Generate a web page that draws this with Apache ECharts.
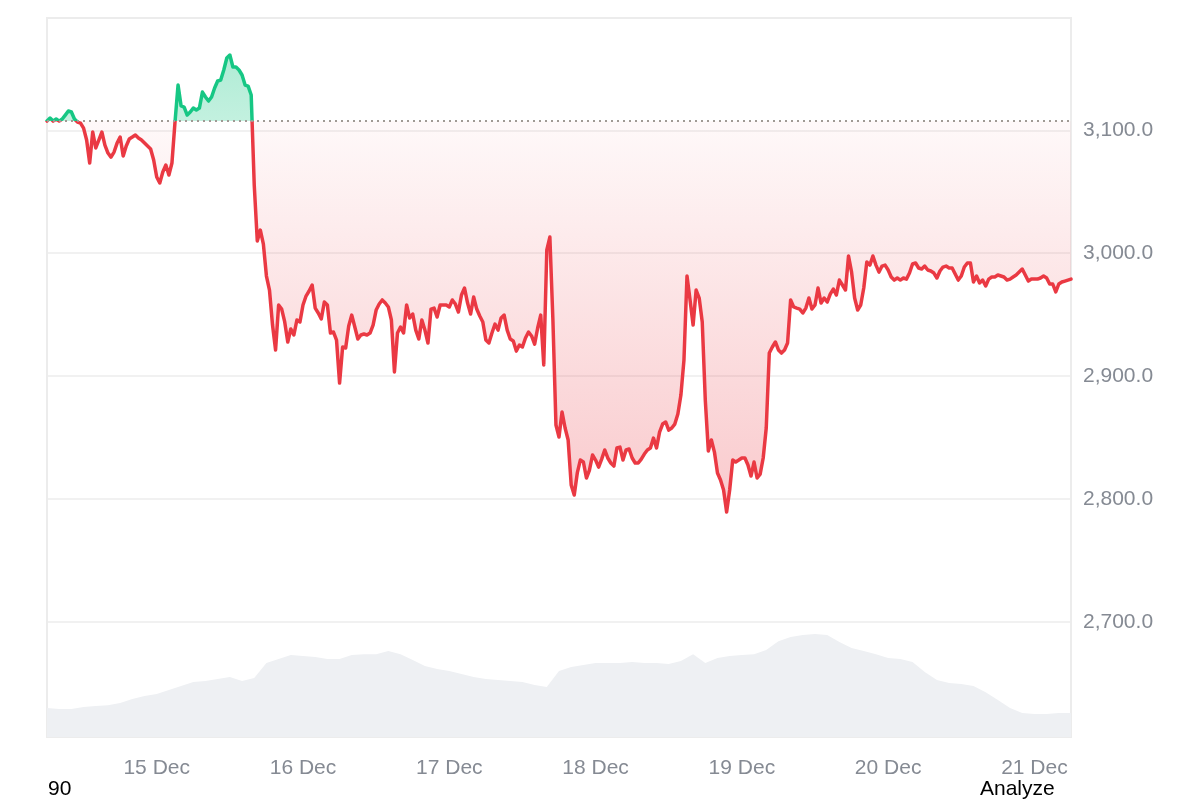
<!DOCTYPE html>
<html>
<head>
<meta charset="utf-8">
<script src="https://cdn.jsdelivr.net/npm/echarts@6/dist/echarts.min.js"></script>
<style>
html,body{margin:0;padding:0;background:#ffffff;}
#chart{width:1200px;height:800px;}
</style>
</head>
<body>
<div id="chart"></div>
<script>
// ---------- data ----------
const startTime = Date.UTC(2025, 11, 14, 6, 0);   // 14 Dec 06:00
const priceStepMinutes = 30;
const prices = [
  3107.5, 3110.0, 3107.5, 3109.2, 3107.5, 3109.2, 3112.4, 3115.7, 3114.9, 3109.2, 3106.7, 3105.9,
  3101.8, 3092.1, 3073.4, 3098.6, 3085.6, 3092.1, 3098.6, 3088.0, 3081.5, 3078.2, 3082.3, 3089.6,
  3094.5, 3079.1, 3087.2, 3092.9, 3094.5, 3096.2, 3093.7, 3092.1, 3089.6, 3087.2, 3084.8, 3075.8,
  3062.0, 3057.1, 3066.0, 3071.7, 3063.6, 3073.4, 3106.7, 3136.8, 3119.8, 3118.9, 3112.4, 3114.9,
  3118.1, 3116.5, 3118.1, 3131.1, 3127.1, 3123.8, 3127.1, 3134.4, 3140.1, 3140.9, 3149.1, 3158.8,
  3161.3, 3151.5, 3151.5, 3149.1, 3145.0, 3136.8, 3136.0, 3128.7, 3055.5, 3009.9, 3018.8, 3007.4,
  2981.4, 2970.0, 2941.5, 2921.2, 2957.8, 2954.5, 2944.0, 2927.7, 2938.3, 2933.4, 2945.6, 2944.0,
  2957.8, 2965.1, 2969.2, 2974.1, 2955.3, 2951.3, 2946.4, 2960.2, 2957.8, 2935.0, 2935.8, 2929.3,
  2894.3, 2923.6, 2922.8, 2940.7, 2949.6, 2939.9, 2930.1, 2933.4, 2934.2, 2933.4, 2935.0, 2941.5,
  2953.7, 2958.6, 2961.9, 2959.4, 2956.2, 2945.6, 2903.3, 2935.0, 2939.9, 2935.0, 2957.8, 2947.2,
  2950.5, 2937.4, 2930.1, 2945.6, 2937.4, 2926.9, 2954.5, 2955.3, 2948.0, 2957.8, 2957.8, 2957.8,
  2956.2, 2961.9, 2958.6, 2952.1, 2965.9, 2971.6, 2959.4, 2950.5, 2964.3, 2954.5, 2948.8, 2944.0,
  2929.3, 2926.9, 2935.0, 2942.3, 2937.4, 2947.2, 2949.6, 2937.4, 2930.1, 2928.5, 2920.3, 2925.2,
  2923.6, 2930.9, 2935.8, 2932.6, 2926.0, 2939.1, 2949.6, 2909.0, 3002.6, 3013.1, 2945.6, 2860.1,
  2850.4, 2870.7, 2857.7, 2847.9, 2811.3, 2803.1, 2821.1, 2831.6, 2830.0, 2817.0, 2823.5, 2835.7,
  2831.6, 2825.9, 2832.4, 2839.8, 2833.3, 2829.2, 2826.7, 2841.4, 2842.2, 2831.6, 2839.8, 2840.6,
  2833.3, 2829.2, 2829.2, 2832.4, 2836.5, 2839.8, 2841.4, 2849.5, 2841.4, 2854.4, 2860.9, 2862.6,
  2856.0, 2857.7, 2860.9, 2869.1, 2884.5, 2913.0, 2981.4, 2961.9, 2941.5, 2970.0, 2963.5, 2944.0,
  2880.5, 2839.0, 2847.9, 2838.1, 2821.1, 2815.4, 2807.2, 2789.3, 2807.2, 2831.6, 2830.0, 2831.6,
  2833.3, 2833.3, 2827.6, 2818.6, 2830.0, 2817.0, 2820.2, 2833.3, 2857.7, 2918.7, 2923.6, 2927.7,
  2921.2, 2918.7, 2921.2, 2926.9, 2961.9, 2956.2, 2955.3, 2954.5, 2951.3, 2955.3, 2963.5, 2954.5,
  2957.8, 2971.6, 2959.4, 2963.5, 2960.2, 2966.7, 2970.8, 2965.9, 2978.1, 2974.1, 2970.0, 2997.7,
  2984.6, 2963.5, 2953.7, 2957.8, 2971.6, 2992.8, 2990.3, 2997.7, 2990.3, 2984.6, 2989.5, 2990.3,
  2986.3, 2980.6, 2978.1, 2979.8, 2978.1, 2979.8, 2978.9, 2983.8, 2991.2, 2992.0, 2987.9, 2987.1,
  2989.5, 2986.3, 2985.5, 2983.8, 2979.8, 2985.5, 2988.7, 2989.5, 2987.9, 2987.9, 2983.0, 2978.1,
  2981.4, 2988.7, 2992.0, 2992.0, 2976.5, 2981.4, 2975.7, 2978.1, 2973.3, 2978.9, 2980.6, 2980.6,
  2982.2, 2981.4, 2980.6, 2978.1, 2978.9, 2980.6, 2982.2, 2984.6, 2987.1, 2982.2, 2977.3, 2978.9,
  2978.9, 2978.9, 2979.8, 2981.4, 2979.8, 2974.9, 2974.9, 2968.4, 2974.9, 2976.5, 2977.3, 2978.1,
  2978.9
];
const baselinePrice = 3107.5;

const volumeStepMinutes = 120;
const volumes = [ // 24h volume, billions
  11.4, 11.0, 11.0, 11.8, 12.2, 12.5, 13.3, 14.9, 16.1, 16.9, 18.4, 20.0,
  21.6, 22.0, 22.7, 23.5, 22.0, 23.1, 29.0, 30.6, 32.2, 31.8, 31.4, 30.6,
  30.6, 32.2, 32.5, 32.5, 33.7, 32.5, 30.2, 27.8, 26.7, 25.9, 24.7, 23.5,
  22.7, 22.4, 22.0, 21.6, 20.4, 19.6, 25.9, 27.5, 28.2, 29.0, 29.0, 29.0,
  29.4, 29.0, 29.0, 28.6, 29.8, 32.5, 29.0, 31.0, 31.8, 32.2, 32.5, 34.1,
  37.6, 39.2, 40.0, 40.4, 40.0, 37.3, 34.9, 33.7, 32.5, 31.0, 30.6, 29.4,
  25.5, 22.4, 21.2, 20.8, 20.0, 17.6, 14.5, 11.4, 9.4, 9.0, 9.0, 9.4,
  9.4
];

const monthLabel = 'Dec';
const footerLeftText = '90';
const footerRightText = 'Analyze';

// ---------- build ----------
const GREEN = '#16c784';
const RED = '#ea3943';
const GRAY_TEXT = '#858a93';

const priceData = prices.map((p, i) => [startTime + i * priceStepMinutes * 60000, p]);
const volumeData = volumes.map((v, i) => [startTime + i * volumeStepMinutes * 60000, v]);
const endTime = startTime + (prices.length - 1) * priceStepMinutes * 60000;

const maxP = Math.max(...prices);
const minP = Math.min(...prices);
const f = (maxP - baselinePrice) / (maxP - minP);

const areaGradient = new echarts.graphic.LinearGradient(0, 0, 0, 1, [
  { offset: 0, color: 'rgba(22,199,132,0.34)' },
  { offset: f, color: 'rgba(22,199,132,0.26)' },
  { offset: f, color: 'rgba(234,57,67,0.03)' },
  { offset: 1, color: 'rgba(234,57,67,0.27)' }
]);

const chart = echarts.init(document.getElementById('chart'), null, { renderer: 'canvas' });
const fontFamily = '"Liberation Sans", Arial, Helvetica, sans-serif';

chart.setOption({
  animation: false,
  useUTC: true,
  backgroundColor: '#ffffff',
  grid: {
    left: 47, right: 129, top: 18, bottom: 63,
    show: true, borderColor: '#ececec', borderWidth: 2, backgroundColor: 'transparent'
  },
  xAxis: {
    type: 'time',
    min: startTime,
    max: endTime,
    minInterval: 86400000,
    maxInterval: 86400000,
    axisLine: { show: false },
    axisTick: { show: false },
    splitLine: { show: false },
    axisLabel: {
      color: GRAY_TEXT,
      fontSize: 21,
      fontFamily: fontFamily,
      margin: 21,
      formatter: function (val) {
        const d = new Date(val);
        return d.getUTCDate() + ' ' + monthLabel;
      }
    }
  },
  yAxis: [
    {
      type: 'value',
      position: 'right',
      min: 2606.2,
      max: 3191.4,
      scale: true,
      axisLine: { show: false },
      axisTick: { show: false },
      splitLine: { show: true, showMinLine: false, showMaxLine: false, lineStyle: { color: '#ececec', width: 1.5 } },
      axisLabel: {
        showMinLabel: false,
        showMaxLabel: false,
        color: GRAY_TEXT,
        fontSize: 21,
        fontFamily: fontFamily,
        margin: 12,
        formatter: function (v) {
          return v.toLocaleString('en-US', { minimumFractionDigits: 1, maximumFractionDigits: 1 });
        }
      }
    },
    {
      type: 'value',
      position: 'left',
      min: 0,
      max: 282,
      show: false,
      splitLine: { show: false }
    }
  ],
  visualMap: {
    show: false,
    type: 'piecewise',
    seriesIndex: 1,
    dimension: 1,
    pieces: [
      { gte: 0, lte: baselinePrice, color: RED },
      { gt: baselinePrice, lte: 100000, color: GREEN }
    ],
    outOfRange: { color: RED }
  },
  series: [
    {
      name: 'Volume',
      type: 'line',
      yAxisIndex: 1,
      data: volumeData,
      showSymbol: false,
      symbol: 'none',
      silent: true,
      z: 1,
      lineStyle: { width: 0, color: '#eef0f3' },
      itemStyle: { color: '#eef0f3' },
      areaStyle: { color: '#eef0f3', opacity: 1 }
    },
    {
      name: 'Price',
      type: 'line',
      yAxisIndex: 0,
      data: priceData,
      showSymbol: false,
      symbol: 'none',
      z: 3,
      lineStyle: { width: 3.5, join: 'round', cap: 'round' },
      areaStyle: { origin: baselinePrice, color: areaGradient, opacity: 1 },
      markLine: {
        silent: true,
        symbol: ['none', 'none'],
        label: { show: false },
        lineStyle: { type: [2, 4], color: '#a09a94', width: 2 },
        data: [{ yAxis: baselinePrice }]
      }
    }
  ],
  graphic: [
    {
      type: 'text', left: 48, top: 779,
      style: { text: footerLeftText, fill: '#000000', font: '21px ' + fontFamily }
    },
    {
      type: 'text', left: 980, top: 779,
      style: { text: footerRightText, fill: '#000000', font: '21px ' + fontFamily }
    }
  ]
});
</script>
</body>
</html>
